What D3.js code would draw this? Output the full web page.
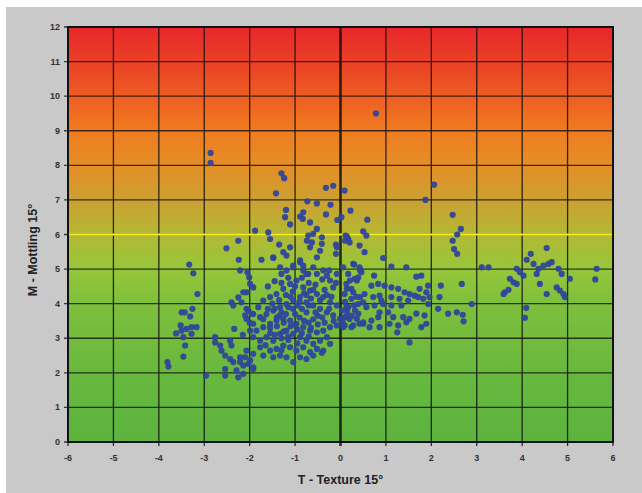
<!DOCTYPE html>
<html><head><meta charset="utf-8">
<script src="https://cdn.jsdelivr.net/npm/d3@7"></script>
<style>body{margin:0;background:#fff}svg{display:block}</style>
</head><body>
<svg id="c" width="642" height="493"></svg>
<script>
const xTicks = [-6,-5,-4,-3,-2,-1,0,1,2,3,4,5,6];
const yTicks = [0,1,2,3,4,5,6,7,8,9,10,11,12];
const xTitle = "T - Texture 15°";
const yTitle = "M - Mottling 15°";
const limitValue = 6;
// [texture, mottling]
const points = [
[0.78,9.50],[-2.86,8.36],[-2.86,8.07],[-1.30,7.77],[-1.24,7.63],[-1.42,7.19],[-0.32,7.35],[-0.16,7.41],[0.09,7.27],
[2.06,7.44],[1.87,7.00],[-0.73,6.96],[-0.52,6.90],[-0.22,6.86],[-1.20,6.71],[-1.22,6.50],[-0.82,6.64],[-0.89,6.52],
[-0.83,6.45],[-0.32,6.58],[-0.07,6.42],[0.22,6.69],[0.02,6.50],[0.59,6.43],[2.47,6.57],[-0.67,6.35],[-1.11,6.29],
[-1.88,6.11],[-1.59,6.06],[-1.55,5.87],[-0.52,6.16],[-0.60,6.02],[-0.71,5.97],[-0.74,5.82],[-0.63,5.77],[-0.41,5.92],
[-0.41,5.73],[-0.67,5.63],[-1.11,5.63],[-1.26,5.49],[-1.19,5.39],[-1.48,5.32],[-1.74,5.27],[-0.45,5.53],[-0.52,5.34],
[-0.89,5.25],[-1.04,5.10],[-0.82,5.10],[-0.08,5.63],[-0.10,5.44],[-0.10,5.71],[0.10,5.82],[0.14,5.95],[0.50,6.09],
[0.57,5.97],[0.11,5.97],[0.17,5.87],[0.20,5.77],[0.42,5.68],[0.53,5.49],[2.65,6.16],[2.57,6.00],[2.47,5.82],[2.50,5.58],
[2.57,5.44],[-2.51,5.60],[-2.25,5.82],[-2.24,5.27],[-1.35,5.71],[-3.33,5.13],[-3.24,4.88],[-2.21,4.96],[-2.05,4.91],
[-2.01,4.76],[-0.71,4.86],[-0.25,4.96],[-0.30,4.81],[0.30,5.13],[0.94,5.32],[0.42,5.05],[0.46,4.91],[0.39,4.76],
[0.31,4.72],[1.12,5.07],[1.45,5.05],[1.67,4.78],[1.78,4.81],[0.17,4.86],[0.13,4.57],[0.24,4.43],[0.09,4.28],[0.74,4.81],
[1.93,4.52],[1.89,4.33],[1.74,4.43],[1.71,4.19],[1.82,4.14],[1.96,4.19],[1.93,3.99],[2.21,4.52],[2.18,4.19],
[0.68,4.52],[0.83,4.57],[0.97,4.52],[1.12,4.47],[1.27,4.43],[1.41,4.33],[1.52,4.28],[1.63,4.23],
[0.53,4.28],[0.72,4.19],[0.86,4.23],[0.90,4.09],[1.12,4.19],[1.30,4.14],[1.49,4.09],[1.34,3.95],[1.12,3.95],[0.94,3.99],
[0.75,3.95],[0.57,3.90],[0.39,3.99],[0.24,4.14],[2.15,3.85],[2.37,3.71],
[0.13,3.90],[0.09,3.61],[0.20,3.56],[0.39,3.71],[0.50,3.46],[0.68,3.51],[0.83,3.61],[0.86,3.75],[1.05,3.75],[1.16,3.61],
[1.38,3.61],[1.52,3.56],[1.67,3.71],[1.85,3.66],[1.89,3.42],[1.78,3.32],[1.45,3.46],[1.27,3.37],[1.08,3.42],[0.86,3.32],
[0.64,3.32],[0.42,3.42],[0.24,3.32],[0.09,3.37],[1.25,3.17],[1.52,2.88],
[2.67,4.57],[2.89,3.99],[2.56,3.75],[2.69,3.68],[2.71,3.49],
[4.54,5.61],[4.19,5.44],[4.10,5.27],[4.25,5.15],[4.36,5.01],[4.47,5.10],[4.58,5.15],[4.65,5.20],[4.32,4.86],
[3.11,5.05],[3.26,5.05],[3.88,5.01],[3.95,4.91],[4.03,4.81],[3.73,4.72],[3.81,4.62],[3.88,4.57],
[4.80,5.01],[4.87,4.86],[5.05,4.72],[5.64,5.01],[5.61,4.70],[4.39,4.57],[3.62,4.33],[3.70,4.40],[3.59,4.28],
[4.76,4.47],[4.83,4.38],[4.91,4.28],[4.94,4.19],[4.54,4.28],[4.09,3.88],[4.06,3.59],
[-1.48,5.34],[-1.33,5.05],[-1.30,4.86],[-1.19,4.96],[-1.04,5.05],[-0.89,5.20],[-0.82,4.96],[-0.75,4.86],[-0.60,5.05],
[-0.52,4.86],[-0.38,4.96],[-0.23,4.67],[-0.16,4.47],[-0.08,4.86],[0.06,5.05],[0.28,5.15],[0.43,4.96],[0.36,4.67],
[0.21,4.67],[0.14,4.43],[0.28,4.33],[0.43,4.19],[0.50,4.04],[0.32,3.80],[0.17,3.90],[0.03,3.80],[-0.08,3.95],
[-0.23,4.04],[-0.38,4.19],[-0.52,4.28],[-0.67,4.38],[-0.82,4.47],[-0.97,4.67],[-1.11,4.57],[-1.26,4.43],[-1.41,4.28],
[-1.55,4.19],[-1.70,4.09],[-1.81,3.90],[-1.92,3.70],[-1.77,3.61],[-1.63,3.70],[-1.48,3.80],[-1.33,3.90],[-1.19,3.99],
[-1.04,4.09],[-0.89,4.19],[-0.75,4.04],[-0.60,3.95],[-0.45,3.85],[-0.30,3.75],[-0.16,3.66],[-0.01,3.56],[0.14,3.61],
[0.36,3.56],[0.50,3.42],[0.28,3.37],[0.06,3.32],[-0.08,3.37],[-0.23,3.32],[-0.38,3.22],[-0.52,3.17],[-0.67,3.22],
[-0.82,3.32],[-0.97,3.42],[-1.11,3.51],[-1.26,3.56],[-1.41,3.51],[-1.55,3.42],[-1.70,3.32],[-1.85,3.22],[-1.92,3.03],
[-1.77,2.93],[-1.63,3.03],[-1.48,2.93],[-1.33,3.13],[-1.19,3.22],[-1.04,3.13],[-0.89,3.03],[-0.75,2.93],[-0.60,2.84],
[-0.45,2.93],[-0.30,3.03],[-0.23,2.84],[-0.38,2.64],[-0.52,2.69],[-0.67,2.60],[-0.82,2.74],[-0.97,2.64],[-1.11,2.74],
[-1.26,2.79],[-1.41,2.69],[-1.55,2.64],[-1.70,2.50],[-1.77,2.74],[-1.48,2.45],[-1.33,2.50],[-1.19,2.45],[-1.04,2.31],
[-0.89,2.45],[-0.75,2.40],[-0.60,2.50],[-0.41,2.58],[-2.07,2.64],[-1.92,2.55],[-2.10,2.45],[-2.21,2.31],[-2.03,2.26],
[-1.92,2.11],[-2.14,1.97],[-2.25,1.87],
[-1.20,3.70],[-1.05,3.85],[-0.90,3.60],[-0.75,3.75],[-0.60,3.55],[-1.35,3.65],[-1.10,4.20],[-0.95,3.95],[-0.80,4.30],
[-0.65,4.15],[-1.50,4.00],[-1.40,3.35],[-1.25,3.20],[-1.00,3.40],[-0.70,3.45],[-0.50,3.65],[-0.35,4.40],[-0.55,4.55],
[-0.85,4.75],[-1.15,4.75],[-1.60,4.50],[-1.45,4.65],[-0.20,4.20],[-0.10,4.60],[-1.30,2.65],[-1.65,2.80],[-2.00,3.45],
[-2.15,3.10],[-1.55,3.15],[-1.15,3.05],[-0.95,2.85],
[-1.45,3.85],[-1.30,3.75],[-1.15,3.90],[-1.00,3.70],[-0.85,3.85],[-0.70,3.95],[-0.55,3.75],[-0.40,3.60],[-0.25,3.85],
[-1.40,3.60],[-1.25,3.45],[-1.10,3.35],[-0.95,3.25],[-0.80,3.50],[-0.65,3.30],[-0.50,3.40],[-0.35,3.45],[-0.15,3.50],
[-1.35,4.10],[-1.20,4.25],[-1.05,4.35],[-0.90,4.05],[-0.75,4.25],[-0.60,4.40],[-0.45,4.10],[-0.30,4.25],
[-1.60,3.85],[-1.70,3.55],[-1.55,3.30],[-1.45,3.10],[-1.30,3.00],[-1.15,2.95],[-0.85,3.15],[-0.70,3.05],
[-1.00,4.50],[-0.70,4.60],[-1.30,4.60],[-0.40,4.70],
[0.05,3.45],[0.15,3.75],[0.30,3.95],[0.10,4.05],[0.25,3.65],[0.35,4.20],
[-3.50,3.75],[-3.26,3.85],[-3.31,3.63],[-3.52,3.37],[-3.62,3.14],[-3.50,3.22],[-3.39,3.27],[-3.28,3.32],[-3.17,3.32],
[-3.28,3.13],[-3.46,3.03],[-3.42,2.79],[-3.46,2.47],[-3.81,2.31],[-3.79,2.18],[-2.96,1.92],[-3.15,4.28],[-3.43,3.75],
[-2.76,3.03],[-2.76,2.88],[-2.65,2.79],[-2.62,2.64],[-2.43,2.93],[-2.40,2.79],[-2.54,2.50],[-2.43,2.40],[-2.36,2.31],
[-2.21,2.45],[-2.14,2.21],[-2.29,2.07],[-2.54,2.11],[-2.54,1.92],[-1.99,2.36],[-1.92,2.16],[-2.34,3.27],
[-2.14,4.33],[-2.25,4.18],[-2.40,4.04],[-2.36,3.95],[-2.18,4.04],[-2.07,3.85],[-1.96,3.71],[-2.07,3.56],[-1.92,3.42],
[-1.99,3.22],[-1.99,4.57],[-1.92,4.47],[-2.07,4.33],[-2.03,3.80],[-2.10,3.66]
];
// background gradient colours by mottling value
const gradStops = [
  {v:12,c:"#e8262a"},{v:11,c:"#ea4026"},{v:10,c:"#ee5c22"},{v:9,c:"#f07c20"},{v:8,c:"#e48e26"},
  {v:7,c:"#cca032"},{v:6,c:"#b4b834"},{v:5,c:"#96c63a"},{v:4,c:"#7ebf3c"},{v:2,c:"#68b83e"},{v:0,c:"#5cb33e"}
];

const svg = d3.select("#c");
const W=642,H=493;
const m = {l:68,r:613,t:27,b:442};
svg.append("rect").attr("x",0).attr("y",0).attr("width",W).attr("height",H).attr("fill","#fff");
svg.append("rect").attr("x",6).attr("y",7).attr("width",W-6).attr("height",H-7).attr("fill","#c9c9c9");

const x = d3.scaleLinear().domain([-6,6]).range([m.l,m.r]);
const y = d3.scaleLinear().domain([0,12]).range([m.b,m.t]);

const defs = svg.append("defs");
const lg = defs.append("linearGradient").attr("id","bg").attr("x1",0).attr("y1",0).attr("x2",0).attr("y2",1);
gradStops.forEach(s=>lg.append("stop").attr("offset",(12-s.v)/12).attr("stop-color",s.c));

svg.append("rect").attr("x",m.l).attr("y",m.t).attr("width",m.r-m.l).attr("height",m.b-m.t).attr("fill","url(#bg)");

// grid
const g = svg.append("g");
g.selectAll("line.v").data(xTicks).join("line")
  .attr("x1",d=>x(d)).attr("x2",d=>x(d)).attr("y1",m.t).attr("y2",m.b+4)
  .attr("stroke","#111").attr("stroke-opacity",0.85).attr("stroke-width",d=>d===0?2.6:1.3);
g.selectAll("line.h").data(yTicks).join("line")
  .attr("y1",d=>y(d)).attr("y2",d=>y(d)).attr("x1",m.l-4).attr("x2",m.r)
  .attr("stroke","#111").attr("stroke-opacity",0.8).attr("stroke-width",1.3);

// limit line
svg.append("line").attr("x1",m.l).attr("x2",m.r+2).attr("y1",y(limitValue)).attr("y2",y(limitValue))
  .attr("stroke","#f4ef1a").attr("stroke-width",2.2);

// border
svg.append("rect").attr("x",m.l).attr("y",m.t).attr("width",m.r-m.l).attr("height",m.b-m.t)
  .attr("fill","none").attr("stroke","#111").attr("stroke-width",2);

// points
svg.append("g").selectAll("circle").data(points).join("circle")
  .attr("cx",d=>x(d[0])).attr("cy",d=>y(d[1])).attr("r",3.1)
  .attr("fill","#2f469c").attr("fill-opacity",0.95);

// axes labels
const font = "Arial, 'Liberation Sans', sans-serif";
svg.append("g").selectAll("text").data(xTicks).join("text")
  .attr("x",d=>x(d)).attr("y",461).attr("text-anchor","middle")
  .attr("font-family",font).attr("font-size",9).attr("font-weight","bold").attr("fill","#333")
  .text(d=>d);
svg.append("g").selectAll("text").data(yTicks).join("text")
  .attr("x",60).attr("y",d=>y(d)+3).attr("text-anchor","end")
  .attr("font-family",font).attr("font-size",9).attr("font-weight","bold").attr("fill","#333")
  .text(d=>d);
svg.append("text").attr("x",(m.l+m.r)/2).attr("y",484).attr("text-anchor","middle")
  .attr("font-family",font).attr("font-size",12.5).attr("font-weight","bold").attr("fill","#222")
  .text(xTitle);
svg.append("text").attr("transform","translate(37,250) rotate(-90)").attr("text-anchor","middle")
  .attr("font-family",font).attr("font-size",12.5).attr("font-weight","bold").attr("fill","#222")
  .text(yTitle);
</script>
</body></html>
